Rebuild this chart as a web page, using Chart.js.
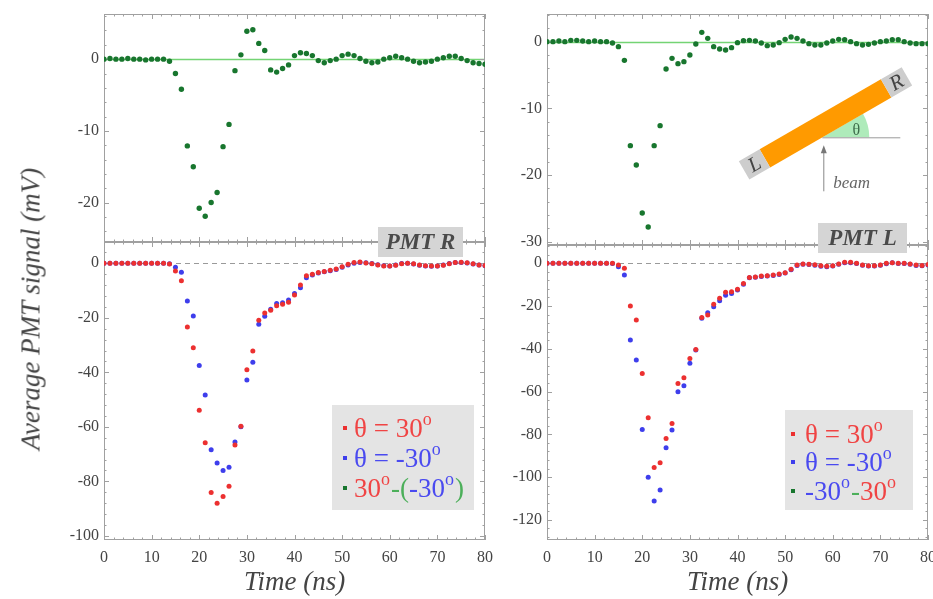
<!DOCTYPE html>
<html>
<head>
<meta charset="utf-8">
<script src="https://cdn.jsdelivr.net/npm/chart.js@4.4.1/dist/chart.umd.min.js"></script>
<style>
  html, body { margin: 0; padding: 0; background: #fff; overflow: hidden; }
  #wrap { position: relative; width: 933px; height: 599px; overflow: hidden; }
  #wrap canvas { position: absolute; }
  #ytitle {
    position: absolute; left: 31px; top: 309px;
    transform: translate(-50%, -50%) rotate(-90deg);
    font: italic 27px 'Liberation Serif', 'DejaVu Serif', serif;
    color: #444; white-space: nowrap;
  }
</style>
</head>
<body>
<div id="wrap">
  <canvas id="tl" width="495" height="250" style="left:0;top:0"></canvas>
  <canvas id="tr" width="505" height="250" style="left:440px;top:0"></canvas>
  <canvas id="bl" width="495" height="379" style="left:0;top:220px"></canvas>
  <canvas id="br" width="505" height="379" style="left:440px;top:220px"></canvas>
  <div id="ytitle">Average PMT signal (mV)</div>
</div>
<script>
// sample times (ns), one every 1.25 ns
const TIME = [0, 1.25, 2.5, 3.75, 5, 6.25, 7.5, 8.75, 10, 11.25, 12.5, 13.75, 15, 16.25, 17.5, 18.75,
  20, 21.25, 22.5, 23.75, 25, 26.25, 27.5, 28.75, 30, 31.25, 32.5, 33.75, 35, 36.25, 37.5, 38.75,
  40, 41.25, 42.5, 43.75, 45, 46.25, 47.5, 48.75, 50, 51.25, 52.5, 53.75, 55, 56.25, 57.5, 58.75,
  60, 61.25, 62.5, 63.75, 65, 66.25, 67.5, 68.75, 70, 71.25, 72.5, 73.75, 75, 76.25, 77.5, 78.75, 80];

// PMT R (left column)
const R_POS30 = [0, 0, 0, 0, 0, 0, 0, 0, 0, 0, 0, -0.3, -2.8, -6.4, -23.4, -31, -53.9, -65.8, -84.1, -88,
  -85.5, -81.8, -66.7, -59.8, -39.1, -32.2, -20.9, -18.2, -17.2, -15.6, -15, -14.3, -11.6, -8, -4.6, -4,
  -3.4, -3, -2.6, -2.1, -1.3, -0.4, 0.3, 0.5, 0.1, -0.2, -0.6, -1, -1, -0.7, -0.2, 0, -0.2, -0.6, -0.9,
  -1, -1, -0.7, -0.2, 0.3, 0.4, 0.2, -0.2, -0.6, -0.8];
const R_NEG30 = [0, 0, 0, 0, 0, 0, 0, 0, 0, 0, 0, -0.2, -1.5, -3.3, -13.8, -19.3, -37.5, -48.3, -68.4, -73.3,
  -76, -74.8, -65.6, -60, -42.8, -36.3, -22.4, -19.4, -16.9, -14.8, -14.5, -13.5, -11.1, -9, -5.3, -4.3,
  -3.6, -3.1, -2.7, -2.3, -1.5, -0.6, 0, 0.3, 0.2, -0.1, -0.5, -0.9, -1, -0.6, -0.1, 0, -0.3, -0.7, -1,
  -1.1, -1, -0.6, -0.1, 0.3, 0.3, 0.1, -0.3, -0.6, -0.9];
const R_DIFF = [0, 0.1, 0, 0, 0.1, 0, 0, -0.1, 0, 0, 0, -0.3, -2, -4.2, -12.1, -15, -20.8, -21.9, -20, -18.6,
  -12.2, -9.1, -1.6, 0.6, 3.9, 4.1, 2.2, 1.2, -1.5, -1.8, -1.3, -0.8, 0.5, 0.9, 0.8, 0.5, -0.2, -0.5,
  -0.2, 0, 0.5, 0.7, 0.5, 0.1, -0.3, -0.5, -0.4, 0, 0.2, 0.4, 0.2, 0, -0.3, -0.5, -0.4, -0.3, 0, 0.2,
  0.4, 0.4, 0.1, -0.2, -0.5, -0.6, -0.7];

// PMT L (right column)
const L_POS30 = [0, 0, 0, 0, 0, 0, 0, 0, 0, 0, 0, 0, -0.8, -2.3, -20, -26.5, -51.5, -72.2, -95.5, -93.3,
  -81.9, -74.9, -56.2, -53.5, -44.5, -40.3, -25.3, -24.2, -19.2, -16.4, -13.6, -13.3, -12.2, -9.4, -6.6,
  -6.4, -6, -5.8, -5.5, -5, -4.4, -2.8, -0.8, -0.3, -0.4, -0.7, -1.2, -1.4, -1.2, -0.3, 0.5, 0.5, 0,
  -0.8, -1.1, -1.1, -0.8, 0, 0.3, 0, 0, -0.3, -0.8, -1, -0.6];
const L_NEG30 = [0, 0, 0, 0, 0, 0, 0, 0, 0, 0, 0, -0.1, -1.6, -5.5, -35.9, -45.2, -77.7, -100.1, -111.2, -106,
  -86.3, -78, -60.1, -57.3, -46.8, -40.6, -25.7, -23.1, -20.3, -17.5, -14.9, -14.1, -12.5, -9.8, -6.8,
  -6.5, -6.2, -6, -5.7, -5.2, -4.6, -3, -1, -0.5, -0.6, -0.9, -1.4, -1.6, -1.3, -0.5, 0.3, 0.3, -0.1,
  -0.9, -1.3, -1.3, -0.9, -0.2, 0.2, -0.1, -0.1, -0.5, -1, -1.2, -0.8];
const L_DIFF = [0, 0, 0.1, 0, 0.2, 0.2, 0.1, 0, 0.1, 0, 0, -0.2, -0.75, -2.8, -15.6, -18.5, -25.7, -27.8, -15.6, -12.6,
  -4.1, -2.5, -3.3, -3, -2, -0.35, 1.4, 0.5, -0.75, -1.1, -1.25, -0.9, -0.15, 0.15, 0.2, 0.1, -0.2, -0.6,
  -0.5, -0.15, 0.35, 0.7, 0.5, 0.1, -0.3, -0.5, -0.5, -0.2, 0.1, 0.35, 0.3, 0, -0.3, -0.5, -0.4, -0.2,
  0, 0.1, 0.3, 0.3, 0, -0.2, -0.3, -0.3, -0.3];

const RED = 'rgb(236,48,48)';
const BLUE = 'rgb(62,62,236)';
const GREEN = 'rgb(24,118,46)';
const TXT_RED = '#f04444';
const TXT_BLUE = '#4a4af0';
const TXT_GREEN = '#4caf5a';
const SERIF = "'Liberation Serif', 'DejaVu Serif', serif";

Chart.defaults.font.family = SERIF;

// frame with inward ticks on all four sides, plus the zero line
const framePlugin = {
  id: 'frame',
  beforeDatasetsDraw(chart, args, opts) {
    const { ctx, chartArea: a, scales: { x, y } } = chart;
    ctx.save();
    const y0 = Math.round(y.getPixelForValue(0)) + 0.5;
    ctx.beginPath();
    if (opts.zero === 'dash') {
      ctx.setLineDash([5, 4]);
      ctx.strokeStyle = '#9a9a9a';
      ctx.lineWidth = 1;
    } else {
      ctx.strokeStyle = '#74d474';
      ctx.lineWidth = 1.3;
    }
    ctx.moveTo(a.left, y0);
    ctx.lineTo(a.right, y0);
    ctx.stroke();
    ctx.setLineDash([]);
    ctx.lineWidth = 1;

    ctx.strokeStyle = '#a0a0a0';
    ctx.strokeRect(a.left + 0.5, a.top + 0.5, a.right - a.left - 1, a.bottom - a.top - 1);

    ctx.beginPath();
    const xs = x.options, ys = y.options;
    for (let v = Math.ceil(xs.min / opts.xMinor) * opts.xMinor; v <= xs.max + 1e-9; v += opts.xMinor) {
      const len = Math.abs(v / 10 - Math.round(v / 10)) < 1e-6 ? 5 : 2.5;
      const p = Math.round(x.getPixelForValue(v)) + 0.5;
      ctx.moveTo(p, a.bottom); ctx.lineTo(p, a.bottom - len);
      ctx.moveTo(p, a.top); ctx.lineTo(p, a.top + len);
    }
    const major = ys.ticks.stepSize;
    for (let v = Math.ceil(ys.min / opts.yMinor) * opts.yMinor; v <= ys.max + 1e-9; v += opts.yMinor) {
      const len = Math.abs(v / major - Math.round(v / major)) < 1e-6 ? 5 : 2.5;
      const p = Math.round(y.getPixelForValue(v)) + 0.5;
      ctx.moveTo(a.left, p); ctx.lineTo(a.left + len, p);
      ctx.moveTo(a.right, p); ctx.lineTo(a.right - len, p);
    }
    ctx.stroke();
    ctx.restore();
  }
};

// text with superscript "o" in place of the degree sign
function drawRich(ctx, x, y, parts, size) {
  let cx = x;
  parts.forEach(([txt, col]) => {
    ctx.fillStyle = col;
    txt.split(/(°)/).forEach(seg => {
      if (!seg) return;
      if (seg === '°') {
        ctx.font = `${Math.round(size * 0.68)}px ${SERIF}`;
        ctx.fillText('o', cx, y - size * 0.42);
        cx += ctx.measureText('o').width + 1;
      } else {
        ctx.font = `${size}px ${SERIF}`;
        ctx.fillText(seg, cx, y);
        cx += ctx.measureText(seg).width;
      }
    });
  });
}

function drawTag(ctx, cx, cy, w, h, text) {
  ctx.fillStyle = '#d5d5d5';
  ctx.fillRect(cx - w / 2, cy - h / 2, w, h);
  ctx.fillStyle = '#4a4a4a';
  ctx.font = `italic bold 23px ${SERIF}`;
  ctx.textAlign = 'center';
  ctx.textBaseline = 'middle';
  ctx.fillText(text, cx, cy + 1);
  ctx.textAlign = 'left';
  ctx.textBaseline = 'alphabetic';
}

// legend box, PMT tag and the detector sketch
const notesPlugin = {
  id: 'notes',
  afterDraw(chart, args, opts) {
    const { ctx, chartArea: a } = chart;
    ctx.save();
    if (opts.legend) {
      const L = opts.legend;
      ctx.fillStyle = '#e4e4e4';
      ctx.fillRect(a.left + L.x, a.top + L.y, L.w, L.h);
      L.items.forEach((it, k) => {
        const my = a.top + L.y + L.rows[k];
        ctx.fillStyle = it.dot;
        ctx.fillRect(a.left + L.x + L.dotX - 2, my - 2, 4, 4);
        drawRich(ctx, a.left + L.x + L.textX, my + 8.5, it.parts, 27);
      });
    }
    if (opts.tag) {
      const T = opts.tag;
      drawTag(ctx, a.left + T.x, a.top + T.y, T.w, T.h, T.text);
    }
    if (opts.sketch) drawSketch(ctx, a.left + opts.sketch.x, a.top + opts.sketch.y);
    ctx.restore();
  }
};

function drawSketch(ctx, px, py) {
  const ang = -Math.PI / 6;
  // angle wedge
  ctx.fillStyle = 'rgba(120,222,140,0.6)';
  ctx.beginPath();
  ctx.moveTo(px, py);
  ctx.arc(px, py, 47, ang, 0);
  ctx.closePath();
  ctx.fill();
  ctx.strokeStyle = '#9a9a9a';
  ctx.lineWidth = 1;
  ctx.beginPath();
  ctx.moveTo(px, py + 0.5);
  ctx.lineTo(px + 78, py + 0.5);
  ctx.stroke();
  ctx.fillStyle = '#3d6b4a';
  ctx.font = `16px ${SERIF}`;
  ctx.textAlign = 'center';
  ctx.textBaseline = 'middle';
  ctx.fillText('θ', px + 34, py - 7);

  // beam arrow
  ctx.strokeStyle = '#888';
  ctx.beginPath();
  ctx.moveTo(px + 1.5, py + 54);
  ctx.lineTo(px + 1.5, py + 14);
  ctx.stroke();
  ctx.fillStyle = '#777';
  ctx.beginPath();
  ctx.moveTo(px + 1.5, py + 8);
  ctx.lineTo(px - 1.5, py + 16);
  ctx.lineTo(px + 4.5, py + 16);
  ctx.closePath();
  ctx.fill();
  ctx.fillStyle = '#666';
  ctx.font = `italic 17px ${SERIF}`;
  ctx.textAlign = 'left';
  ctx.textBaseline = 'alphabetic';
  ctx.fillText('beam', px + 11, py + 51);

  // scintillator bar with its two PMTs
  ctx.save();
  ctx.translate(px + 3.2, py - 14);
  ctx.rotate(ang);
  ctx.fillStyle = '#ff9a00';
  ctx.fillRect(-70, -10.5, 140, 21);
  ctx.fillStyle = '#cdcdcd';
  ctx.fillRect(-94, -10.5, 24, 21);
  ctx.fillRect(70, -10.5, 24, 21);
  ctx.fillStyle = '#444';
  ctx.font = `italic 21px ${SERIF}`;
  ctx.textAlign = 'center';
  ctx.textBaseline = 'middle';
  ctx.fillText('L', -82, 1);
  ctx.fillText('R', 82, 1);
  ctx.restore();
}

function series(values, color, r) {
  return {
    data: TIME.map((t, i) => ({ x: t, y: values[i] })),
    backgroundColor: color,
    borderColor: color,
    borderWidth: 0,
    pointRadius: r,
    pointHoverRadius: r,
    pointBorderWidth: 0
  };
}

function makePanel(id, cfg) {
  return new Chart(document.getElementById(id), {
    type: 'scatter',
    data: { datasets: cfg.datasets },
    options: {
      responsive: false,
      animation: false,
      events: [],
      layout: { padding: cfg.pad },
      plugins: {
        legend: { display: false },
        tooltip: { enabled: false },
        frame: { zero: cfg.zero, xMinor: 2, yMinor: cfg.yMinor },
        notes: cfg.notes || {}
      },
      scales: {
        x: {
          type: 'linear', min: 0, max: 80,
          grid: { display: false, drawTicks: false },
          border: { display: false },
          ticks: {
            display: cfg.xLabels, stepSize: 10, padding: 8, autoSkip: false, maxRotation: 0,
            includeBounds: false, color: '#444', font: { size: 16 }
          },
          title: {
            display: cfg.xLabels, text: 'Time (ns)', color: '#444',
            font: { size: 27, style: 'italic' }, padding: { top: 0, bottom: 0 }
          },
          afterFit: s => {
            s.height = cfg.xH;
            s.paddingLeft = 0; s.paddingRight = 0;
          }
        },
        y: {
          type: 'linear', min: cfg.yMin, max: cfg.yMax,
          grid: { display: false, drawTicks: false },
          border: { display: false },
          ticks: {
            stepSize: cfg.yStep, padding: 5, includeBounds: false, autoSkip: false,
            color: '#444', font: { size: 16 }
          },
          afterFit: s => {
            s.width = cfg.yW;
            s.paddingTop = 0; s.paddingBottom = 0;
          }
        }
      }
    },
    plugins: [framePlugin, notesPlugin]
  });
}

makePanel('tl', {
  datasets: [series(R_DIFF, GREEN, 2.7)],
  pad: { top: 14, right: 10, bottom: 8, left: 0 },
  yW: 104, xH: 0, xLabels: false,
  yMin: -25.5, yMax: 6.3, yStep: 10, yMinor: 2, zero: 'line'
});

makePanel('tr', {
  datasets: [series(L_DIFF, GREEN, 2.7)],
  pad: { top: 14, right: 17, bottom: 5, left: 0 },
  yW: 107, xH: 0, xLabels: false,
  yMin: -30.5, yMax: 4.15, yStep: 10, yMinor: 2, zero: 'line',
  notes: { sketch: { x: 275.3, y: 123.3 } }
});

makePanel('bl', {
  datasets: [series(R_POS30, RED, 2.5), series(R_NEG30, BLUE, 2.5)],
  pad: { top: 22, right: 10, bottom: 0, left: 0 },
  yW: 104, xH: 59, xLabels: true,
  yMin: -101.5, yMax: 7.8, yStep: 20, yMinor: 4, zero: 'dash',
  notes: {
    legend: {
      x: 228, y: 163, w: 142, h: 105, dotX: 13, textX: 22, rows: [23, 53, 83],
      items: [
        { dot: RED, parts: [['θ = 30°', TXT_RED]] },
        { dot: BLUE, parts: [['θ = -30°', TXT_BLUE]] },
        { dot: GREEN, parts: [['30°', TXT_RED], ['-(', TXT_GREEN], ['-30°', TXT_BLUE], [')', TXT_GREEN]] }
      ]
    },
    tag: { x: 316.5, y: 0, w: 85, h: 30, text: 'PMT R' }
  }
});

makePanel('br', {
  datasets: [series(L_POS30, RED, 2.5), series(L_NEG30, BLUE, 2.5)],
  pad: { top: 25, right: 17, bottom: 0, left: 0 },
  yW: 107, xH: 59, xLabels: true,
  yMin: -129.4, yMax: 8.55, yStep: 20, yMinor: 4, zero: 'dash',
  notes: {
    legend: {
      x: 238, y: 165, w: 128, h: 100, dotX: 8, textX: 20, rows: [24, 52, 81],
      items: [
        { dot: RED, parts: [['θ = 30°', TXT_RED]] },
        { dot: BLUE, parts: [['θ = -30°', TXT_BLUE]] },
        { dot: GREEN, parts: [['-30°', TXT_BLUE], ['-', TXT_GREEN], ['30°', TXT_RED]] }
      ]
    },
    tag: { x: 315.5, y: -7, w: 89, h: 30, text: 'PMT L' }
  }
});
</script>
</body>
</html>
